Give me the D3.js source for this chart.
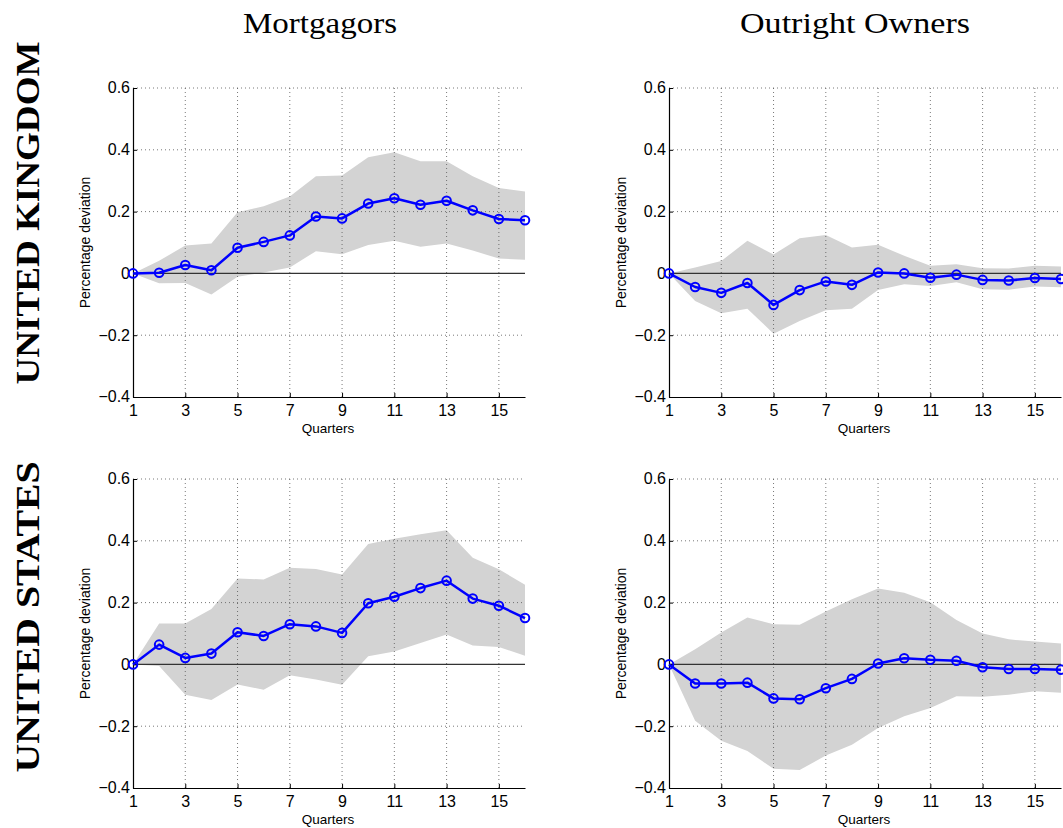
<!DOCTYPE html>
<html>
<head>
<meta charset="utf-8">
<script src="https://cdn.jsdelivr.net/npm/d3@7"></script>
<style>
  html, body { margin: 0; padding: 0; background: #fff; }
  svg { display: block; }
</style>
</head>
<body>
<svg id="chart" width="1063" height="828"></svg>
<script>
// quarters on the horizontal axis
const quarters = [1, 2, 3, 4, 5, 6, 7, 8, 9, 10, 11, 12, 13, 14, 15, 16];
const xTicks = [1, 3, 5, 7, 9, 11, 13, 15];
const yTicks = [-0.4, -0.2, 0, 0.2, 0.4, 0.6];
const colTitles = ["Mortgagors", "Outright Owners"];
const rowTitles = ["UNITED KINGDOM", "UNITED STATES"];

// United Kingdom, mortgagors
const ukMortIrf   = [0, 0.002, 0.027, 0.010, 0.083, 0.102, 0.123, 0.184, 0.178, 0.226, 0.243, 0.222, 0.235, 0.204, 0.176, 0.172];
const ukMortUpper = [0, 0.041, 0.090, 0.097, 0.198, 0.217, 0.249, 0.314, 0.317, 0.376, 0.392, 0.363, 0.363, 0.314, 0.276, 0.265];
const ukMortLower = [0, -0.032, -0.031, -0.068, -0.011, 0.003, 0.019, 0.072, 0.062, 0.092, 0.106, 0.086, 0.097, 0.074, 0.048, 0.044];

// United Kingdom, outright owners
const ukOwnIrf   = [0, -0.044, -0.063, -0.031, -0.102, -0.054, -0.026, -0.037, 0.003, 0.000, -0.014, -0.004, -0.021, -0.023, -0.015, -0.018];
const ukOwnUpper = [0, 0.019, 0.040, 0.106, 0.061, 0.114, 0.124, 0.084, 0.093, 0.057, 0.025, 0.030, 0.017, 0.016, 0.025, 0.022];
const ukOwnLower = [0, -0.089, -0.129, -0.114, -0.195, -0.154, -0.119, -0.114, -0.054, -0.035, -0.041, -0.029, -0.051, -0.053, -0.042, -0.045];

// United States, mortgagors
const usMortIrf   = [0, 0.064, 0.021, 0.035, 0.104, 0.092, 0.130, 0.123, 0.102, 0.198, 0.219, 0.247, 0.271, 0.213, 0.190, 0.150];
const usMortUpper = [0, 0.132, 0.132, 0.179, 0.278, 0.275, 0.313, 0.309, 0.291, 0.390, 0.407, 0.421, 0.434, 0.345, 0.308, 0.258];
const usMortLower = [0, -0.005, -0.098, -0.115, -0.065, -0.082, -0.035, -0.049, -0.066, 0.026, 0.042, 0.069, 0.097, 0.061, 0.056, 0.028];

// United States, outright owners
const usOwnIrf   = [0, -0.062, -0.062, -0.059, -0.110, -0.113, -0.077, -0.047, 0.003, 0.020, 0.015, 0.012, -0.009, -0.015, -0.015, -0.017];
const usOwnUpper = [0, 0.049, 0.103, 0.152, 0.130, 0.128, 0.171, 0.211, 0.246, 0.232, 0.201, 0.144, 0.100, 0.081, 0.074, 0.068];
const usOwnLower = [0, -0.182, -0.247, -0.280, -0.338, -0.342, -0.295, -0.260, -0.206, -0.168, -0.141, -0.103, -0.105, -0.098, -0.087, -0.092];

const panels = [
  { row: 0, col: 0, irf: ukMortIrf, upper: ukMortUpper, lower: ukMortLower },
  { row: 0, col: 1, irf: ukOwnIrf,  upper: ukOwnUpper,  lower: ukOwnLower },
  { row: 1, col: 0, irf: usMortIrf, upper: usMortUpper, lower: usMortLower },
  { row: 1, col: 1, irf: usOwnIrf,  upper: usOwnUpper,  lower: usOwnLower }
];

const CFG = {
  COL_X: [133, 669],
  ROW_Y: [88, 479],
  PLOT_W: 392,
  PLOT_H: 309,
  BAND: '#d3d3d3',
  LINE: '#0000ff',
  GRID: '#555',
  SANS: 'Liberation Sans, Arial, sans-serif',
  SERIF: 'Liberation Serif, DejaVu Serif, serif'
};

const svg = d3.select('#chart');

const fmt = v => v === 0 ? '0' : (v < 0 ? '\u2212' : '') + Math.abs(v).toFixed(1);

panels.forEach(p => {
  const left = CFG.COL_X[p.col];
  const top = CFG.ROW_Y[p.row];
  const g = svg.append('g').attr('transform', `translate(${left},${top})`);

  const x = d3.scaleLinear().domain([1, 16]).range([0, CFG.PLOT_W]);
  const y = d3.scaleLinear().domain([-0.4, 0.6]).range([CFG.PLOT_H, 0]);

  // confidence band
  const band = d3.area()
    .x((d, i) => x(quarters[i]))
    .y0((d, i) => y(p.lower[i]))
    .y1((d, i) => y(p.upper[i]));
  g.append('path').datum(p.irf).attr('d', band).attr('fill', CFG.BAND);

  // dotted grid
  g.append('g').selectAll('line.vg')
    .data(xTicks.filter(t => t !== 1))
    .enter().append('line')
    .attr('x1', d => x(d)).attr('x2', d => x(d))
    .attr('y1', 0).attr('y2', CFG.PLOT_H)
    .attr('stroke', CFG.GRID).attr('stroke-width', 0.8)
    .attr('stroke-dasharray', '1,3');
  g.append('g').selectAll('line.hg')
    .data(yTicks.filter(t => t !== -0.4 && t !== 0))
    .enter().append('line')
    .attr('x1', 0).attr('x2', CFG.PLOT_W)
    .attr('y1', d => y(d)).attr('y2', d => y(d))
    .attr('stroke', CFG.GRID).attr('stroke-width', 0.8)
    .attr('stroke-dasharray', '1,3');

  // zero line
  g.append('line')
    .attr('x1', 0).attr('x2', CFG.PLOT_W)
    .attr('y1', y(0)).attr('y2', y(0))
    .attr('stroke', '#333').attr('stroke-width', 1.2);

  // axes (ticks point inward, like MATLAB)
  const xAxis = g.append('g').attr('transform', `translate(0,${CFG.PLOT_H})`)
    .call(d3.axisBottom(x).tickValues(xTicks).tickSizeInner(-4).tickSizeOuter(0).tickPadding(4));
  const yAxis = g.append('g')
    .call(d3.axisLeft(y).tickValues(yTicks).tickFormat(fmt).tickSizeInner(-4).tickSizeOuter(0).tickPadding(3));
  [xAxis, yAxis].forEach(a => {
    a.attr('font-size', 16).attr('font-family', CFG.SANS);
    a.select('.domain').attr('stroke', '#000').attr('stroke-width', 1.2);
    a.selectAll('.tick line').attr('stroke', '#000');
    a.selectAll('.tick text').attr('fill', '#000');
  });
  xAxis.selectAll('.tick text').attr('dy', '0.95em');
  yAxis.selectAll('.tick text').attr('dy', '0.3em');

  // impulse response
  const line = d3.line().x((d, i) => x(quarters[i])).y(d => y(d));
  g.append('path').datum(p.irf).attr('d', line)
    .attr('fill', 'none').attr('stroke', CFG.LINE).attr('stroke-width', 2.5)
    .attr('stroke-linejoin', 'round');
  g.append('g').selectAll('circle')
    .data(p.irf)
    .enter().append('circle')
    .attr('cx', (d, i) => x(quarters[i]))
    .attr('cy', d => y(d))
    .attr('r', 4.3)
    .attr('fill', 'none')
    .attr('stroke', CFG.LINE)
    .attr('stroke-width', 2);

  // axis titles
  g.append('text')
    .attr('x', CFG.PLOT_W / 2 - 1).attr('y', CFG.PLOT_H + 36)
    .attr('text-anchor', 'middle')
    .attr('font-family', CFG.SANS).attr('font-size', 13.5)
    .text('Quarters');
  g.append('text')
    .attr('transform', `translate(-43,${CFG.PLOT_H / 2}) rotate(-90)`)
    .attr('text-anchor', 'middle')
    .attr('font-family', CFG.SANS).attr('font-size', 14)
    .text('Percentage deviation');
});

// column titles
const colCenters = [320, 855];
const colLengths = [154, 230];
colTitles.forEach((t, i) => {
  svg.append('text')
    .attr('x', colCenters[i]).attr('y', 33)
    .attr('text-anchor', 'middle')
    .attr('font-family', CFG.SERIF).attr('font-size', 29)
    .attr('textLength', colLengths[i])
    .attr('lengthAdjust', 'spacingAndGlyphs')
    .text(t);
});

// row titles
const rowCenters = [213, 617];
const rowLengths = [343, 311];
rowTitles.forEach((t, i) => {
  svg.append('text')
    .attr('transform', `translate(39,${rowCenters[i]}) rotate(-90)`)
    .attr('text-anchor', 'middle')
    .attr('font-family', CFG.SERIF)
    .attr('font-weight', 'bold')
    .attr('font-size', 34)
    .attr('textLength', rowLengths[i])
    .attr('lengthAdjust', 'spacingAndGlyphs')
    .text(t);
});
</script>
</body>
</html>
